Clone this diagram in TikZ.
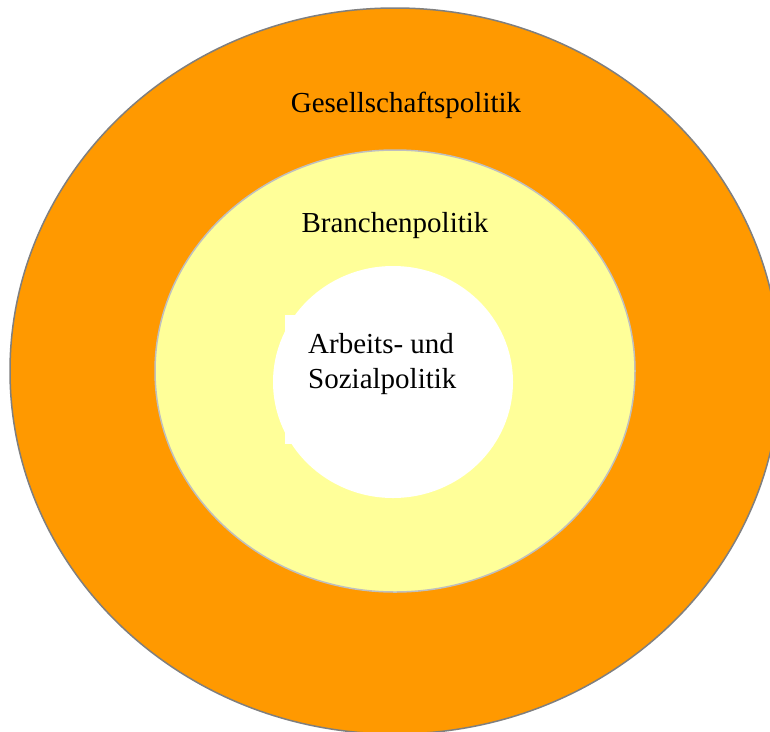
\documentclass[tikz,border=0pt]{standalone}
\usepackage{fontspec}
\setmainfont{Liberation Serif}
\definecolor{ringorange}{HTML}{FF9900}
\definecolor{ringyellow}{HTML}{FFFF99}
\definecolor{ringgray}{HTML}{7F7F7F}
\definecolor{ringlight}{HTML}{BFBFBF}
\tikzset{
  ringlabel/.style={anchor=base, inner sep=0pt, font=\fontsize{29}{35}\selectfont}
}
\begin{document}
\begin{tikzpicture}[x=1pt, y=-1pt]

\useasboundingbox (0,0) rectangle (770,731);
\fill[white] (0,0) rectangle (770,731);

% rings
\draw[ringgray, line width=1.5pt, fill=ringorange] (395,371) ellipse [x radius=385pt, y radius=363pt];
\draw[ringlight, line width=1.5pt, fill=ringyellow] (395,371) ellipse [x radius=240pt, y radius=221pt];
\fill[white] (393,382) ellipse [x radius=120pt, y radius=116pt];
\fill[white] (285,315) rectangle (330,444);

% labels
\node[ringlabel] (gesellschaft) at (406,112) {Gesellschaftspolitik};
\node[ringlabel] (branche) at (395,232) {Branchenpolitik};
\node[ringlabel, anchor=base west] (arbeit) at (308,353) {Arbeits- und};
\node[ringlabel, anchor=base west] (sozial) at (308,388) {Sozialpolitik};

\end{tikzpicture}
\end{document}
